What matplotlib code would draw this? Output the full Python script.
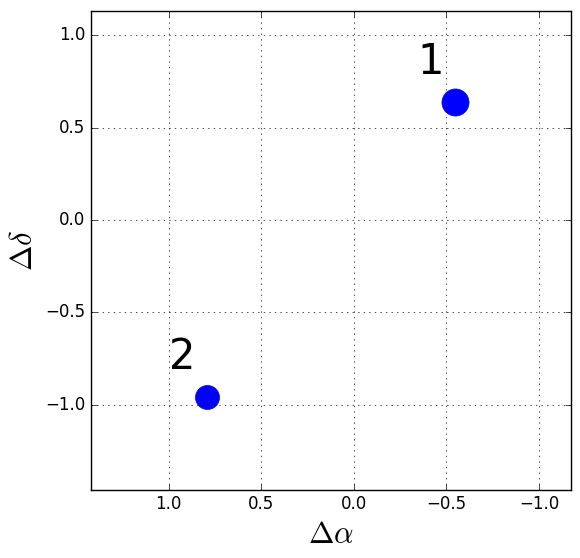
import matplotlib
matplotlib.use("Agg")
import matplotlib.pyplot as plt

plt.style.use("classic")

# offsets of the two sources
labels = ["1", "2"]
d_alpha = [-0.546, 0.795]
d_delta = [0.638, -0.957]
msizes = [19.5, 17.3]

fig = plt.figure(figsize=(5.8, 5.58), dpi=100)
ax = fig.add_axes([0.157, 0.122, 0.8275, 0.858])

for lab, x, y, ms in zip(labels, d_alpha, d_delta, msizes):
    ax.plot(x, y, "o", color="blue", markersize=ms, markeredgecolor="blue")
    ax.text(x + 0.13, y + 0.15, lab, fontsize=30, ha="center", va="baseline")

ax.set_xlim(1.42, -1.173)
ax.set_ylim(-1.46, 1.13)
ax.set_xticks([1.0, 0.5, 0.0, -0.5, -1.0])
ax.set_yticks([-1.0, -0.5, 0.0, 0.5, 1.0])
ax.grid(True)
ax.set_xlabel(r"$\Delta\alpha$", fontsize=22)
ax.set_ylabel(r"$\Delta\delta$", fontsize=22)

fig.savefig("out.png", dpi=100)
